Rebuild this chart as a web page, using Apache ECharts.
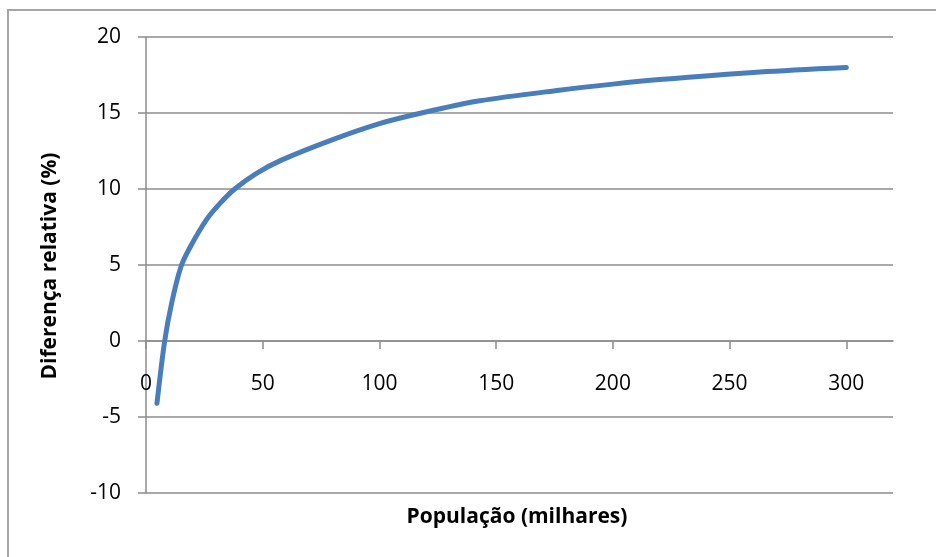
<!DOCTYPE html>
<html>
<head>
<meta charset="utf-8">
<script src="https://cdn.jsdelivr.net/npm/echarts@6/dist/echarts.min.js"></script>
<style>
html,body{margin:0;padding:0;background:#fff;}
#c{width:936px;height:557px;}
</style>
</head>
<body>
<div id="c"></div>
<script>
// Data
var populacao = [4.7, 8, 11, 15, 19, 26, 32, 38, 47, 58, 80, 100, 118, 143, 177, 200, 220, 263, 300];
var diferenca = [-4.1, 0, 2.5, 4.9, 6.2, 8.0, 9.1, 10.0, 11.0, 11.9, 13.25, 14.3, 15.0, 15.8, 16.5, 16.9, 17.2, 17.7, 18.0];
var xTicks = [0, 50, 100, 150, 200, 250, 300];
var yTicks = [-10, -5, 0, 5, 10, 15, 20];
var xTitle = 'População (milhares)';
var yTitle = 'Diferença relativa (%)';

var points = populacao.map(function (x, i) { return [x, diferenca[i]]; });
var font = '"Open Sans", "Noto Sans", sans-serif';
var gridColor = '#8c8c8c';

var chart = echarts.init(document.getElementById('c'), null, {renderer: 'canvas'});
chart.setOption({
  animation: false,
  backgroundColor: '#fff',
  grid: {left: 146, right: 43, top: 37, bottom: 64, containLabel: false},
  xAxis: {
    type: 'value',
    min: 0,
    max: 320,
    interval: 50,
    offset: -152,
    axisLine: {show: true, onZero: false, lineStyle: {color: gridColor, width: 1.5}},
    axisTick: {show: true, inside: false, length: 8, customValues: xTicks, lineStyle: {color: gridColor, width: 1.5}},
    axisLabel: {customValues: xTicks, margin: 33, color: '#000', fontSize: 21, fontFamily: font},
    splitLine: {show: false}
  },
  yAxis: {
    type: 'value',
    min: -10,
    max: 20,
    interval: 5,
    axisLine: {show: true, lineStyle: {color: gridColor, width: 1.5}},
    axisTick: {show: true, inside: false, length: 8, lineStyle: {color: gridColor, width: 1.5}},
    axisLabel: {margin: 25, color: '#000', fontSize: 21, fontFamily: font},
    splitLine: {show: true, lineStyle: {color: gridColor, width: 1.5}}
  },
  series: [{
    type: 'line',
    data: points,
    smooth: 0.3,
    showSymbol: false,
    lineStyle: {color: '#4a7ebb', width: 5, cap: 'round', join: 'round'}
  }],
  graphic: [
    {type: 'rect', shape: {x: 8, y: 10, width: 960, height: 600}, style: {fill: 'none', stroke: '#a6a6a6', lineWidth: 2}, z: -1},
    {type: 'text', x: 517, y: 517, style: {text: xTitle, fontSize: 21, fontWeight: 'bold', fontFamily: font, fill: '#000', align: 'center', verticalAlign: 'middle'}},
    {type: 'text', x: 50, y: 266, rotation: Math.PI / 2, style: {text: yTitle, fontSize: 21, fontWeight: 'bold', fontFamily: font, fill: '#000', align: 'center', verticalAlign: 'middle'}}
  ]
});
</script>
</body>
</html>
